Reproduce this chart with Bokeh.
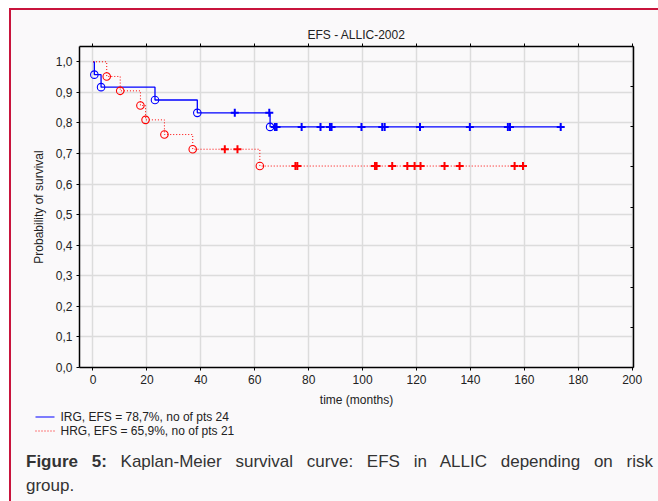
from bokeh.plotting import figure
from bokeh.models import (Range1d, LinearAxis, FixedTicker, CustomJSTickFormatter, Div)
from bokeh.core.properties import value
from bokeh.layouts import column
from bokeh.embed import file_html
from bokeh.resources import INLINE

# ---------------- data ----------------
title_text = "EFS - ALLIC-2002"
x_label = "time (months)"
y_label = "Probability of survival"
x_ticks = [0, 20, 40, 60, 80, 100, 120, 140, 160, 180, 200]
y_ticks = [0.0, 0.1, 0.2, 0.3, 0.4, 0.5, 0.6, 0.7, 0.8, 0.9, 1.0]
y_tick_labels = ["0,0", "0,1", "0,2", "0,3", "0,4", "0,5", "0,6", "0,7", "0,8", "0,9", "1,0"]

irg_name = "IRG, EFS = 78,7%, no of pts 24"
irg_event_t = [0.5, 3.0, 23.0, 38.7, 65.7]
irg_event_s = [0.958, 0.917, 0.875, 0.833, 0.787]
irg_cens_t = [52.6, 65.4, 67.5, 68.1, 77.4, 84.4, 87.9, 88.5, 99.6, 107.3, 108.2,
              121.3, 139.8, 153.9, 154.7, 173.5]

hrg_name = "HRG, EFS = 65,9%, no of pts 21"
hrg_event_t = [5.1, 10.1, 17.6, 19.5, 26.5, 37.0, 61.9]
hrg_event_s = [0.952, 0.905, 0.857, 0.810, 0.762, 0.714, 0.659]
hrg_cens_t = [48.9, 53.6, 75.1, 75.8, 104.6, 105.2, 111.0, 116.6, 119.3, 121.5,
              130.4, 136.0, 156.4, 159.5]

caption_bold = "Figure 5:"
caption_rest = "Kaplan-Meier survival curve: EFS in ALLIC depending on risk"
caption_line2 = "group."

# ---------------- geometry / style ----------------
PW, PH = 647, 400          # figure size inside the bordered box
LH = 28                    # legend strip height
FL, FR, FT, FB = 68, 622, 36, 357   # frame edges inside the figure
X0, X1 = -5.0, 200.5
Y0, Y1 = 0.0, 1.05
BG = "#faf9fa"
FONT = "Liberation Sans"
BLUE = "#0000ff"
RED = "#ff0000"
CRIMSON = "#c8143c"

p = figure(width=PW, height=PH, output_backend="svg", toolbar_location=None,
           x_range=Range1d(X0, X1), y_range=Range1d(Y0, Y1),
           min_border_left=FL, min_border_right=PW - FR,
           min_border_top=FT, min_border_bottom=PH - FB,
           background_fill_color=BG, border_fill_color=BG)
p.outline_line_color = None

p.title.text = title_text
p.title.align = "center"
p.title.offset = -18
p.title.text_font = FONT
p.title.text_font_size = "12px"
p.title.text_font_style = "normal"
p.title.text_color = "#222222"
p.title.standoff = 4

# axes
xa = p.xaxis[0]
xa.ticker = FixedTicker(ticks=x_ticks)
ya = p.yaxis[0]
ya.ticker = FixedTicker(ticks=y_ticks)
ya.major_label_overrides = {t: l for t, l in zip(y_ticks, y_tick_labels)}
for ax in (xa, ya):
    ax.axis_line_color = "black"
    ax.axis_line_width = 1.5
    ax.major_tick_out = 3
    ax.major_tick_in = 0
    ax.minor_tick_line_color = None
    ax.major_label_text_font = FONT
    ax.major_label_text_font_size = "12px"
    ax.major_label_text_color = "#222222"
    ax.axis_label_text_font = FONT
    ax.axis_label_text_font_size = "12px"
    ax.axis_label_text_font_style = "normal"
    ax.axis_label_text_color = "#222222"
xa.axis_label = x_label
ya.axis_label = y_label
xa.major_label_standoff = 4
ya.major_label_standoff = 4
xa.axis_label_standoff = 6
ya.axis_label_standoff = 7

empty = CustomJSTickFormatter(code="return ''")
top_ax = LinearAxis(ticker=FixedTicker(ticks=x_ticks), formatter=empty,
                    major_tick_out=3, major_tick_in=0, minor_tick_line_color=None,
                    axis_line_color="black", axis_line_width=1.5,
                    major_label_standoff=0, major_label_text_font_size="1px")
p.add_layout(top_ax, "above")
p.extra_y_ranges = {"r": Range1d(0, 8)}
right_ax = LinearAxis(y_range_name="r", ticker=FixedTicker(ticks=list(range(9))),
                      formatter=empty, major_tick_out=0, major_tick_in=3,
                      minor_tick_line_color=None, axis_line_color="black",
                      axis_line_width=1.5, major_label_standoff=0,
                      major_label_text_font_size="1px")
p.add_layout(right_ax, "right")

p.xgrid.ticker = FixedTicker(ticks=x_ticks)
p.ygrid.ticker = FixedTicker(ticks=y_ticks)
for g in (p.xgrid[0], p.ygrid[0]):
    g.grid_line_color = "#dcdcdc"
    g.grid_line_width = 1.5


def level(t, ev_t, ev_s):
    s = 1.0
    for et, es in zip(ev_t, ev_s):
        if et <= t:
            s = es
    return s


def draw(ev_t, ev_s, cens_t, color, dash, lw):
    xs = [0.0] + ev_t + [max(cens_t)]
    ys = [1.0] + ev_s + [ev_s[-1]]
    p.step(xs, ys, mode="after", line_color=color, line_width=lw, line_dash=dash)
    p.scatter(ev_t, ev_s, marker="circle", size=7.5, fill_color=None,
              line_color=color, line_width=1.1)
    cy = [level(t, ev_t, ev_s) for t in cens_t]
    p.scatter(cens_t, cy, marker="cross", size=8, line_color=color, line_width=2)


draw(irg_event_t, irg_event_s, irg_cens_t, BLUE, "solid", 1.3)
draw(hrg_event_t, hrg_event_s, hrg_cens_t, RED, "1 2", 1.0)

# ---------------- legend strip (its own small pixel-scaled figure) ----------------
pl = figure(width=PW, height=LH, output_backend="svg", toolbar_location=None,
            x_range=Range1d(0, PW), y_range=Range1d(LH, 0),
            x_axis_type=None, y_axis_type=None, min_border=0,
            background_fill_color=BG, border_fill_color=BG)
pl.outline_line_color = None
pl.grid.visible = False
# keep the strip's frame independent of the main plot's frame
for fig in (p, pl):
    if "frame_align" in fig.properties():
        fig.frame_align = False
LEG_X0, LEG_X1, LEG_TX = 24, 43, 49
LEG_ROWS = [6.5, 20.5]
pl.line([LEG_X0, LEG_X1], [LEG_ROWS[0]] * 2, line_color=BLUE, line_width=1.2)
pl.line([LEG_X0, LEG_X1], [LEG_ROWS[1]] * 2, line_color=RED, line_width=1.0,
        line_dash="1 2")
pl.text(x=[LEG_TX, LEG_TX], y=LEG_ROWS, text=[irg_name, hrg_name],
        text_baseline="middle", text_align="left", text_font=value(FONT),
        text_font_size="12px", text_color="#222222")

bottom_html = (
    f'<div style="font-family:\'{FONT}\';font-size:17px;line-height:24px;'
    f'color:rgb(51,51,51);width:642px;padding-left:15px;margin:12px 0 0 0;'
    f'box-sizing:border-box;">'
    f'<div style="text-align:justify;text-align-last:justify;">'
    f'<b>{caption_bold}</b> {caption_rest}</div>'
    f'<div>{caption_line2}</div></div>'
)
bottom = Div(text=bottom_html, width=PW, height=501 - 10 - PH - LH, margin=(0, 0, 0, 0))

layout = column(p, pl, bottom, margin=(8, 0, 0, 9), spacing=0,
                styles={"border-left": f"2px solid {CRIMSON}",
                        "border-top": f"2px solid {CRIMSON}",
                        "background-color": BG})

open("out.html", "w").write(file_html(layout, INLINE))
